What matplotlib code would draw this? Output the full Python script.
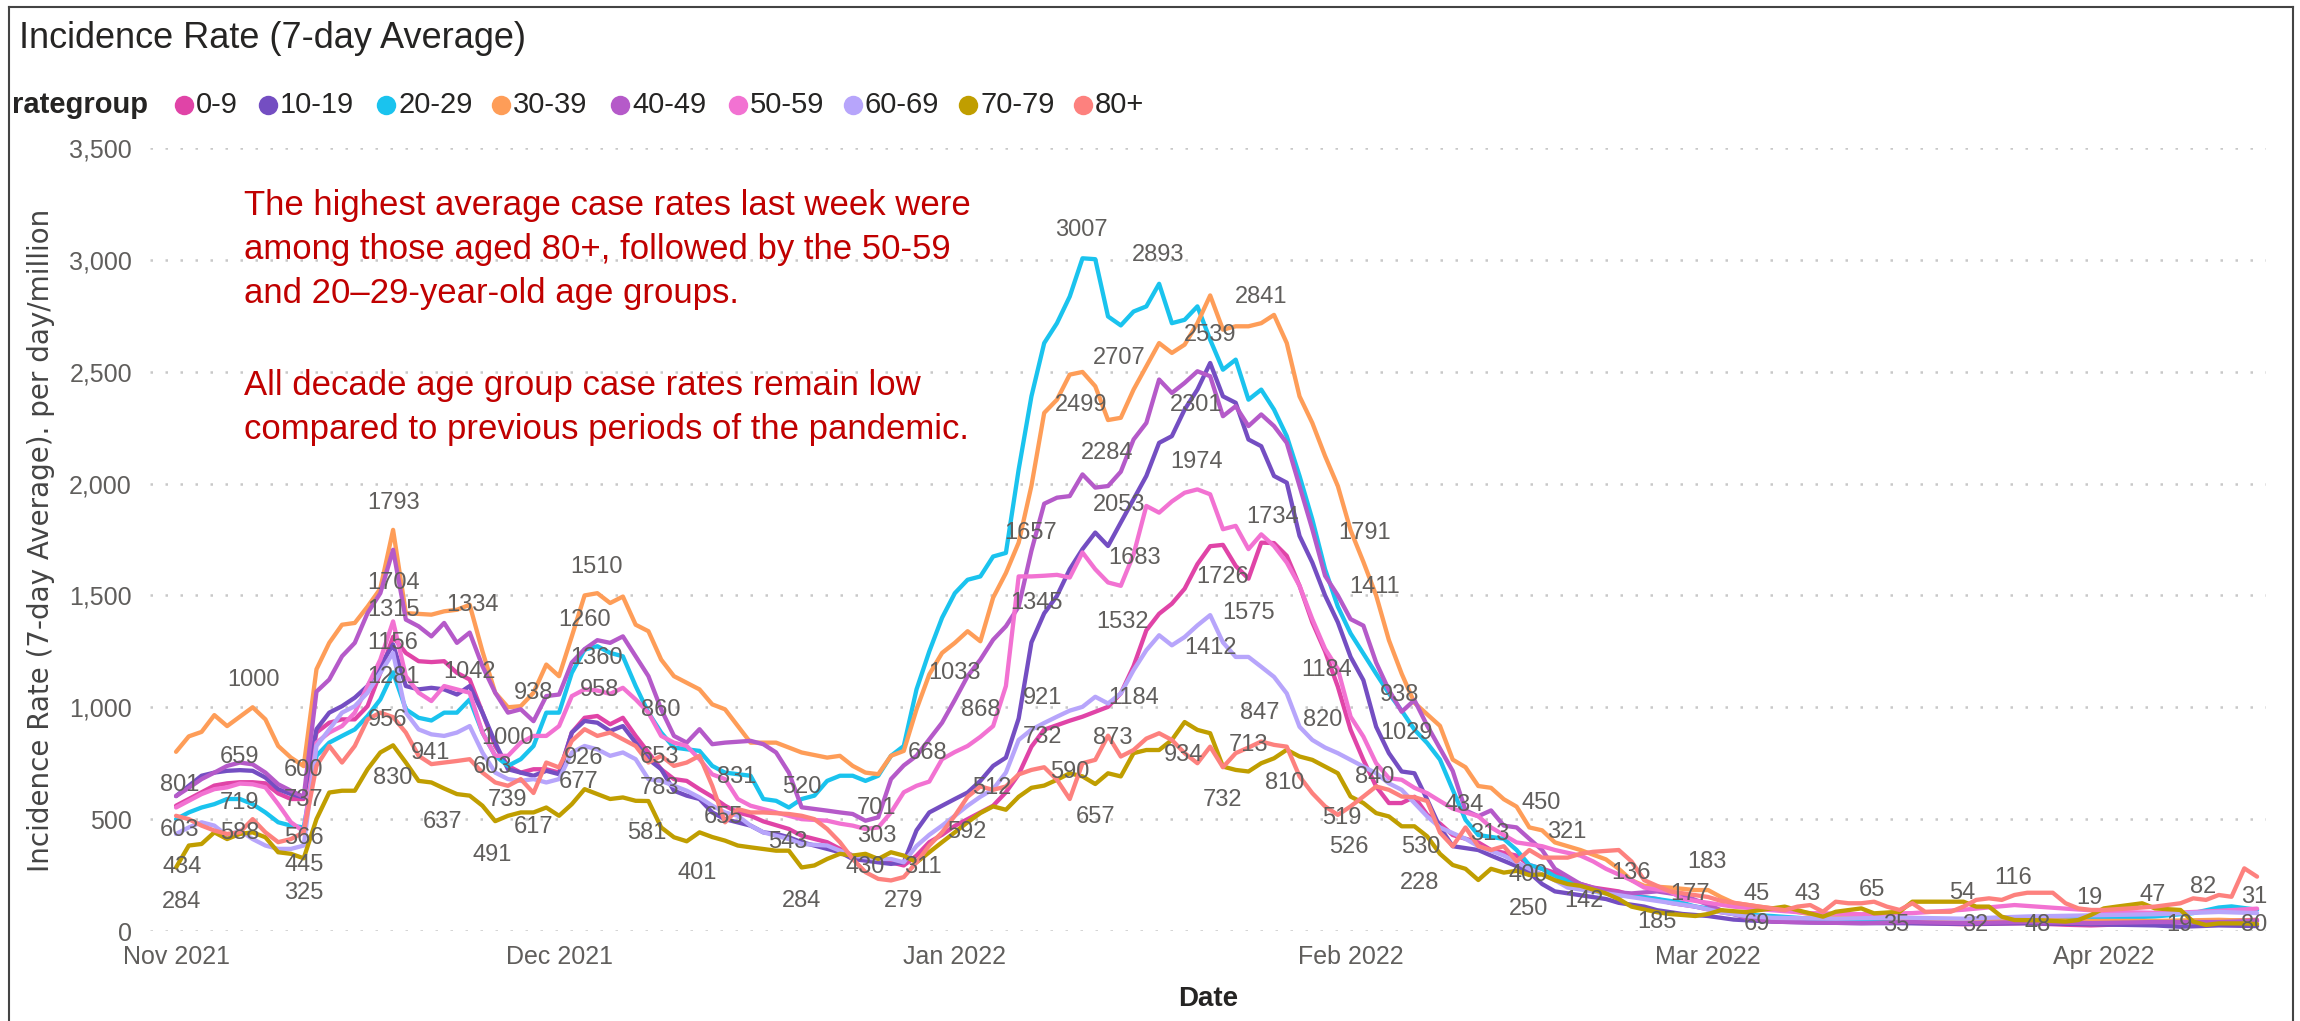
import numpy as np
import matplotlib.pyplot as plt
import matplotlib.dates as mdates
from matplotlib.lines import Line2D

# ---- data: (days since 1 Nov 2021, 7-day average rate) ----
start = np.datetime64('2021-11-01')

r_0_9 = [(0,560),(1,590),(2,620),(3,650),(4,660),(5,665),(6,665),(7,660),(8,615),(9,590),(10,590),
         (11,887),(12,931),(13,946),(14,946),(15,1005),(16,1154),(17,1315),(18,1243),(19,1206),(20,1202),
         (21,1206),(22,1154),(23,1124),(24,976),(25,827),(26,738),(27,708),(28,723),(29,723),(30,708),
         (31,887),(32,953),(33,961),(34,924),(35,953),(36,872),(37,798),(38,723),(39,679),(40,671),
         (41,634),(42,600),(43,560),(44,530),(45,515),(46,490),(48,456),(49,426),(51,397),(52,367),
         (53,337),(55,315),(56,307),(57,293),(58,337),(59,397),(60,430),(61,470),(62,500),(63,530),
         (64,560),(65,620),(66,700),(67,824),(68,900),(69,920),(70,940),(71,958),(72,980),(73,1002),
         (74,1062),(75,1184),(76,1344),(77,1418),(78,1463),(79,1530),(80,1640),(81,1720),(82,1726),
         (83,1632),(84,1575),(85,1736),(86,1734),(87,1677),(88,1543),(89,1380),(90,1250),(91,1092),
         (92,899),(93,765),(94,646),(95,572),(96,572),(97,600),(98,520),(99,480),(100,429),(102,396),
         (103,362),(105,337),(106,295),(108,261),(109,227),(111,194),(113,177),(114,160),(116,143),
         (117,126),(119,109),(121,84),(123,67),(127,42),(130,40),(135,38),(140,30),(145,35),(148,28),
         (150,25),(155,35),(160,45),(163,50)]

r_10_19 = [(0,603),(1,649),(2,694),(3,708),(4,716),(5,719),(6,716),(7,686),(8,634),(9,612),(10,597),
           (11,902),(12,976),(13,1005),(14,1043),(15,1095),(16,1184),(17,1281),(18,1095),(19,1080),
           (20,1087),(21,1080),(22,1057),(23,1095),(24,976),(25,842),(26,723),(27,708),(28,694),(29,716),
           (30,701),(31,887),(32,939),(33,931),(34,894),(35,916),(36,842),(37,768),(38,723),(39,627),
           (40,605),(41,590),(42,530),(43,500),(45,471),(46,441),(47,434),(48,419),(49,397),(51,367),
           (52,352),(53,322),(55,307),(56,300),(57,307),(58,450),(59,530),(60,560),(61,590),(62,619),
           (63,671),(64,738),(65,775),(66,950),(67,1290),(68,1420),(69,1498),(70,1617),(71,1707),
           (72,1781),(73,1721),(74,1826),(75,1930),(76,2034),(77,2182),(78,2212),(79,2331),(80,2420),
           (81,2539),(82,2390),(83,2361),(84,2197),(85,2167),(86,2034),(87,2004),(88,1766),(89,1647),
           (90,1500),(91,1380),(92,1225),(93,1121),(94,913),(95,795),(96,713),(97,705),(98,587),
           (99,463),(100,379),(102,362),(103,337),(105,290),(106,261),(107,210),(108,177),(110,160),
           (112,143),(113,126),(115,109),(116,93),(118,76),(120,67),(122,51),(125,42),(128,38),
           (132,35),(135,35),(140,32),(145,35),(150,30),(155,25),(157,19),(160,25),(163,22)]

r_20_29 = [(0,500),(1,530),(2,552),(3,567),(4,590),(5,590),(6,567),(7,530),(8,486),(9,471),(10,463),
           (11,783),(12,842),(13,872),(14,901),(15,961),(16,1035),(17,1156),(18,991),(19,953),(20,941),
           (21,976),(22,976),(23,1035),(24,887),(25,783),(26,738),(27,768),(28,827),(29,976),(30,976),
           (31,1154),(32,1258),(33,1273),(34,1243),(35,1228),(36,1095),(37,976),(38,887),(39,820),
           (41,805),(42,738),(43,708),(45,694),(46,590),(47,582),(48,552),(49,590),(50,605),(51,671),
           (52,694),(53,694),(54,671),(55,694),(56,783),(57,827),(58,1080),(59,1250),(60,1400),
           (61,1510),(62,1570),(63,1585),(64,1674),(65,1690),(66,2063),(67,2390),(68,2628),(69,2717),
           (70,2836),(71,3007),(72,3003),(73,2747),(74,2707),(75,2769),(76,2792),(77,2893),(78,2717),
           (79,2732),(80,2792),(81,2643),(82,2509),(83,2554),(84,2375),(85,2420),(86,2331),(87,2212),
           (88,2034),(89,1840),(90,1617),(91,1450),(92,1330),(93,1240),(94,1150),(95,1062),(96,985),
           (97,900),(98,840),(99,766),(100,631),(101,497),(102,429),(104,412),(105,362),(106,295),
           (107,278),(108,244),(110,210),(111,177),(113,160),(115,150),(116,143),(118,126),(119,109),
           (121,93),(122,76),(125,67),(128,55),(132,50),(136,45),(140,50),(145,50),(150,55),(155,65),
           (158,80),(160,105),(161,110),(163,95)]

r_30_39 = [(0,801),(1,870),(2,890),(3,965),(4,916),(6,1000),(7,946),(8,827),(9,775),(10,737),
           (11,1170),(12,1288),(13,1369),(14,1377),(15,1450),(16,1530),(17,1793),(18,1421),(20,1414),
           (21,1429),(22,1436),(23,1458),(24,1250),(25,1065),(26,1000),(27,1005),(28,1065),(29,1191),
           (30,1139),(31,1317),(32,1500),(33,1510),(34,1466),(35,1495),(36,1369),(37,1340),(38,1213),
           (39,1139),(41,1080),(42,1013),(43,991),(45,842),(47,842),(48,820),(49,798),(51,775),
           (52,783),(53,738),(54,708),(55,701),(56,783),(57,805),(58,991),(59,1147),(60,1243),
           (61,1288),(62,1340),(63,1295),(64,1490),(65,1600),(66,1736),(67,1990),(68,2316),(69,2375),
           (70,2487),(71,2499),(72,2435),(73,2284),(74,2294),(75,2420),(76,2524),(77,2628),(78,2584),
           (79,2621),(80,2717),(81,2841),(82,2688),(83,2703),(84,2703),(85,2717),(86,2754),(87,2628),
           (88,2390),(89,2271),(90,2123),(91,1989),(92,1791),(93,1650),(94,1500),(95,1300),(96,1150),
           (97,1020),(99,917),(100,766),(101,732),(102,648),(103,640),(104,589),(105,556),(106,463),
           (107,450),(108,396),(110,362),(112,320),(113,278),(114,227),(115,202),(117,194),(119,183),
           (120,183),(121,152),(122,126),(124,109),(126,95),(128,75),(132,60),(136,55),(140,50),
           (145,50),(150,45),(155,45),(160,50),(163,45)]

r_40_49 = [(0,603),(1,640),(2,679),(3,708),(4,738),(5,753),(6,745),(7,708),(8,656),(9,627),(10,600),
           (11,1070),(12,1124),(13,1228),(14,1288),(15,1421),(16,1510),(17,1704),(18,1392),(19,1362),
           (20,1317),(21,1377),(22,1288),(23,1334),(24,1184),(25,1065),(26,976),(27,991),(28,938),
           (29,1050),(30,1057),(31,1200),(32,1260),(33,1300),(34,1288),(35,1317),(36,1228),(37,1139),
           (38,991),(39,872),(40,842),(41,902),(42,835),(43,842),(45,850),(46,835),(47,798),(48,708),
           (49,553),(51,538),(52,530),(53,523),(54,493),(55,508),(56,679),(57,740),(58,783),(60,931),
           (61,1033),(62,1139),(63,1213),(64,1302),(65,1362),(66,1450),(67,1700),(68,1910),(69,1937),
           (70,1944),(71,2041),(72,1982),(73,1989),(74,2053),(75,2197),(76,2271),(77,2465),(78,2405),
           (79,2450),(80,2502),(81,2480),(82,2301),(83,2346),(84,2257),(85,2309),(86,2257),(87,2182),
           (88,1989),(89,1796),(90,1588),(91,1500),(92,1394),(93,1365),(94,1200),(95,1077),(96,980),
           (97,1032),(98,918),(99,816),(100,715),(101,539),(102,513),(103,539),(104,471),(105,463),
           (106,412),(107,362),(108,278),(109,244),(110,210),(112,177),(114,168),(116,177),(118,160),
           (120,118),(121,93),(123,59),(125,42),(128,38),(132,35),(136,40),(140,35),(145,40),
           (150,35),(155,40),(160,40),(163,45)]

r_50_59 = [(0,552),(1,582),(2,612),(3,634),(4,642),(5,659),(6,656),(7,642),(8,567),(9,486),(10,445),
           (11,842),(12,887),(13,916),(14,976),(15,1095),(16,1213),(17,1384),(18,1139),(19,1065),
           (20,1028),(21,1095),(22,1080),(23,1065),(24,887),(25,783),(26,783),(27,842),(28,872),
           (29,872),(30,916),(31,1050),(32,1080),(33,1075),(34,1060),(35,1087),(36,1035),(37,976),
           (38,872),(39,842),(40,827),(41,768),(42,700),(43,679),(44,590),(45,560),(46,545),(47,530),
           (48,515),(49,500),(51,493),(52,480),(53,471),(54,456),(55,463),(56,530),(57,620),(58,649),
           (59,668),(60,768),(61,800),(62,827),(63,868),(64,916),(65,1095),(66,1585),(67,1585),
           (68,1588),(69,1592),(70,1580),(71,1692),(72,1617),(73,1558),(74,1543),(75,1683),(76,1900),
           (77,1870),(78,1920),(79,1959),(80,1974),(81,1952),(82,1796),(83,1811),(84,1707),(85,1773),
           (86,1721),(87,1647),(88,1543),(89,1394),(90,1261),(91,1171),(92,958),(93,869),(94,750),
           (95,683),(96,676),(97,640),(98,616),(99,581),(100,547),(102,513),(103,463),(104,429),
           (105,396),(107,379),(108,362),(110,337),(111,311),(112,278),(114,227),(115,194),(117,177),
           (118,143),(120,126),(122,109),(125,93),(128,80),(132,75),(136,80),(140,95),(144,116),
           (148,100),(152,85),(156,80),(160,90),(163,100)]

r_60_69 = [(0,434),(1,463),(2,486),(3,471),(4,426),(5,449),(6,411),(7,382),(8,367),(9,367),(10,382),
           (11,827),(12,901),(13,976),(14,1005),(15,1065),(16,1154),(17,1243),(18,976),(19,901),
           (20,879),(21,872),(22,887),(23,916),(24,798),(25,708),(26,679),(27,671),(28,679),(29,664),
           (30,679),(31,798),(32,827),(33,812),(34,783),(35,798),(36,768),(37,679),(38,671),(39,649),
           (40,627),(41,597),(42,560),(43,530),(44,515),(45,471),(46,441),(48,411),(49,389),(51,382),
           (52,359),(53,337),(55,322),(56,322),(57,307),(58,380),(59,430),(60,471),(61,515),(62,560),
           (63,600),(64,634),(65,708),(66,854),(67,900),(68,930),(69,958),(70,985),(71,1002),
           (72,1047),(73,1017),(74,1062),(75,1166),(76,1255),(77,1322),(78,1277),(79,1314),(80,1366),
           (81,1412),(82,1290),(83,1225),(84,1225),(85,1181),(86,1136),(87,1062),(88,913),(89,854),
           (90,820),(91,795),(92,765),(93,735),(94,705),(95,660),(96,631),(97,572),(98,512),(99,463),
           (101,412),(102,379),(104,337),(106,278),(108,227),(109,194),(111,177),(113,160),(115,143),
           (117,126),(119,109),(121,84),(123,67),(125,59),(130,55),(135,60),(140,55),(145,65),
           (150,70),(155,75),(160,85),(163,80)]

r_70_79 = [(0,284),(1,382),(2,389),(3,441),(4,411),(5,434),(6,441),(7,419),(8,352),(9,345),(10,325),
           (11,500),(12,619),(13,627),(14,627),(15,723),(16,798),(17,830),(18,753),(19,671),(20,664),
           (21,637),(22,612),(23,605),(24,560),(25,491),(26,515),(27,530),(28,530),(29,552),(30,515),
           (31,567),(32,634),(33,612),(34,590),(35,597),(36,582),(37,581),(38,463),(39,419),(40,401),
           (41,441),(42,420),(43,404),(44,382),(45,374),(47,359),(48,359),(49,284),(50,293),(51,322),
           (52,345),(53,337),(54,345),(55,322),(56,352),(57,337),(58,307),(59,352),(60,397),(61,441),
           (62,486),(63,527),(64,557),(65,542),(66,600),(67,640),(68,650),(69,676),(70,705),(71,691),
           (72,657),(73,705),(74,691),(75,795),(76,809),(77,809),(78,854),(79,934),(80,899),(81,884),
           (82,735),(83,720),(84,713),(85,750),(86,772),(87,810),(88,780),(89,765),(90,735),(91,705),
           (92,601),(93,572),(94,527),(95,512),(96,468),(97,468),(98,423),(99,345),(100,295),
           (101,278),(102,228),(103,278),(104,261),(105,269),(106,250),(107,253),(108,227),(109,210),
           (110,202),(112,168),(113,143),(114,109),(116,84),(117,76),(119,67),(120,76),(121,93),
           (123,84),(124,93),(126,109),(127,93),(129,64),(130,86),(132,101),(133,79),(135,86),
           (136,131),(139,131),(140,131),(141,109),(142,109),(143,64),(144,49),(146,48),(148,42),
           (149,49),(150,72),(151,101),(152,109),(154,124),(155,101),(157,94),(158,42),(159,27),
           (160,34),(162,34),(163,31)]

r_80p = [(0,515),(1,500),(2,471),(3,449),(4,434),(5,441),(6,500),(7,441),(8,397),(9,411),(10,441),
         (11,738),(12,827),(13,753),(14,827),(15,946),(16,976),(17,956),(18,887),(19,783),(20,746),
         (21,753),(22,760),(23,768),(24,708),(25,664),(26,649),(27,679),(28,617),(29,753),(30,731),
         (31,850),(32,902),(33,872),(34,887),(35,857),(36,827),(37,753),(38,783),(39,738),(40,753),
         (41,783),(42,649),(43,486),(44,545),(45,530),(46,530),(48,523),(49,515),(50,500),(51,456),
         (52,397),(53,322),(54,263),(55,233),(56,226),(57,241),(58,307),(59,382),(60,441),(61,515),
         (62,600),(63,646),(64,631),(65,646),(66,700),(67,720),(68,732),(69,676),(70,590),(71,750),
         (72,765),(73,873),(74,780),(75,809),(76,860),(77,884),(78,854),(79,795),(80,750),(81,824),
         (82,732),(83,795),(84,820),(85,847),(86,832),(87,824),(88,691),(89,616),(90,557),(91,519),
         (92,557),(93,601),(94,646),(95,631),(96,601),(97,598),(98,581),(99,440),(100,379),(101,463),
         (102,379),(103,362),(104,379),(105,311),(106,362),(107,328),(109,328),(110,345),(111,354),
         (113,362),(114,311),(115,227),(116,202),(117,177),(119,160),(120,152),(121,135),(122,126),
         (124,109),(126,93),(127,109),(128,116),(129,86),(130,131),(131,124),(132,124),(133,131),
         (134,109),(135,94),(136,124),(137,86),(139,86),(140,109),(141,139),(142,146),(143,139),
         (144,161),(145,171),(147,171),(148,124),(149,101),(150,94),(151,94),(153,101),(155,109),
         (157,124),(158,146),(159,139),(160,161),(161,153),(162,280),(163,243)]

groups = ['0-9', '10-19', '20-29', '30-39', '40-49', '50-59', '60-69', '70-79', '80+']
series = [r_0_9, r_10_19, r_20_29, r_30_39, r_40_49, r_50_59, r_60_69, r_70_79, r_80p]
colors = ['#E044A7', '#744EC2', '#1AC3EE', '#FE9D58', '#B55AC9', '#F272D2', '#B7A5FB', '#C09E00', '#FD817E']

# data labels shown on the chart (text, day, label centre height)
lab_text = ['1793','1704','1315','1156','1281','956','830','1000','659','801','719','603','588','434',
            '284','600','737','566','445','325','1334','1042','941','637','1000','603','739','491',
            '617','938','1510','1260','1360','958','926','677',
            '860','653','783','581','831','655','401','520','543','284','701','303','430','279',
            '311','668','1033','868','592','512','1657','1345','921','732',
            '3007','2893','2841','2539','2707','2499','2301','2284','1974','2053','1734','1791',
            '1683','1726','1411',
            '1575','1532','1412','1184','1184','938','847','820','1029','873','713','934','590',
            '840','810','732','657','519','526','530','228',
            '434','313','450','321','400','250','142','136','177','183','185','45','69','43','65',
            '35','54','116','32','48','19','47','82','19','31','80']
lab_day = [17.0,17.0,17.0,17.0,17.0,16.6,17.0,6.1,5.0,0.3,5.0,0.3,5.0,0.45,0.45,10.0,10.0,10.0,
           10.0,10.0,23.2,23.0,19.9,20.9,26.0,24.8,26.0,24.8,28.0,28.0,32.9,32.0,32.9,33.2,31.9,31.5,
           38.0,37.9,37.9,36.9,43.9,42.9,40.8,49.0,47.9,49.0,54.9,54.9,54.0,57.0,58.5,58.9,61.0,
           63.0,61.9,63.9,66.9,67.4,67.9,67.9,
           70.9,76.9,85.0,81.0,73.9,70.9,79.9,72.9,79.9,73.9,85.9,93.1,75.1,82.0,93.9,
           84.0,74.1,81.0,90.1,75.0,95.8,84.9,89.8,96.4,73.4,84.0,78.9,70.0,93.9,86.8,82.0,72.0,
           91.3,91.9,97.5,97.4,
           100.9,102.9,106.9,108.9,105.9,105.9,110.3,114.0,118.6,119.9,116.0,123.8,123.8,127.8,132.8,
           134.7,139.9,143.9,140.9,145.8,149.9,154.8,158.8,156.9,162.8,162.8]
lab_y = [1912,1557,1435,1286,1137,943,683,1122,779,653,571,451,437,287,131,720,586,414,295,169,
         1457,1159,794,489,861,734,586,340,466,1063,1629,1390,1219,1077,772,667,
         988,779,638,437,690,511,258,645,399,135,548,425,287,135,287,794,1152,988,444,638,1778,
         1465,1040,868,
         3134,3022,2836,2664,2560,2351,2351,2135,2098,1904,1852,1778,1666,1584,1539,
         1420,1383,1264,1167,1040,1055,973,943,884,861,831,787,712,690,660,586,511,504,377,377,214,
         561,435,570,444,250,99,132,259,166,309,40,166,31,166,183,
         27,168,235,27,27,146,161,198,27,153,27]

note_lines = ['The highest average case rates last week were',
              'among those aged 80+, followed by the 50-59',
              'and 20\u201329-year-old age groups.',
              'All decade age group case rates remain low',
              'compared to previous periods of the pandemic.']

# ---- figure ----
W, H = 2300, 1021
fig = plt.figure(figsize=(W / 100, H / 100), dpi=100)
fig.patch.set_facecolor('white')
ax = fig.add_axes([150 / W, 1 - 931 / H, (2266 - 150) / W, (931 - 148) / H])

t0 = mdates.date2num(start)
for pts, c in zip(series, colors):
    d, v = zip(*pts)
    ax.plot(t0 + np.array(d, dtype=float), v, color=c, lw=3.1,
            solid_joinstyle='round', solid_capstyle='round', zorder=2)

for txt, dd, yy in zip(lab_text, lab_day, lab_y):
    ax.text(t0 + dd, yy, txt, ha='center', va='center', fontsize=17, color='#605E5C',
            family='Liberation Sans', zorder=5, clip_on=False)

ax.set_xlim(t0 - 2.04, t0 + 163.7)
ax.set_ylim(0, 3500)
ax.set_yticks(np.arange(0, 3501, 500))
ax.set_yticklabels([f'{v:,}' for v in range(0, 3501, 500)])
ax.xaxis.set_major_locator(mdates.MonthLocator())
ax.xaxis.set_major_formatter(mdates.DateFormatter('%b %Y'))
ax.tick_params(length=0, labelsize=18, labelcolor='#605E5C')
ax.tick_params(axis='y', pad=13)
ax.tick_params(axis='x', pad=10)
for lbl in ax.get_xticklabels() + ax.get_yticklabels():
    lbl.set_family('Liberation Sans')
for s in ax.spines.values():
    s.set_visible(False)
ax.grid(axis='y', color='#C8C8C8', linestyle=(0, (1, 5)), lw=1.8)
ax.grid(axis='x', visible=False)
ax.set_axisbelow(True)

ax.set_xlabel('Date', fontsize=20, fontweight='bold', color='#252423',
              family='Liberation Sans', labelpad=12)
fig.text(41 / W, 1 - 540 / H, 'Incidence Rate (7-day Average). per day/million', rotation=90,
         ha='center', va='center', fontsize=20, color='#444444', family='DejaVu Sans')

# title and legend
fig.text(19 / W, 1 - 38 / H, 'Incidence Rate (7-day Average)', ha='left', va='center',
         fontsize=26, color='#252423', family='Liberation Sans')
fig.text(12 / W, 1 - 105 / H, 'rategroup', ha='left', va='center', fontsize=21,
         fontweight='bold', color='#252423', family='Liberation Sans')
leg_x = [184, 268, 386, 501, 620, 738, 853, 968, 1083]
for gx, g, c in zip(leg_x, groups, colors):
    fig.add_artist(Line2D([gx / W], [1 - 105 / H], marker='o', markersize=14, color=c,
                          markeredgewidth=0, transform=fig.transFigure))
    fig.text((gx + 12) / W, 1 - 105 / H, g, ha='left', va='center', fontsize=21,
             color='#252423', family='Liberation Sans')

# red commentary
for txt, yb in zip(note_lines, [215, 259, 303, 395, 439]):
    fig.text(244 / W, 1 - yb / H, txt, ha='left', va='baseline', fontsize=25,
             color='#C00000', family='Liberation Sans')

# visual border
fig.add_artist(Line2D([9 / W, 2293 / W], [1 - 7 / H, 1 - 7 / H], color='#444444', lw=1.5,
                      transform=fig.transFigure))
fig.add_artist(Line2D([9 / W, 9 / W], [0, 1 - 7 / H], color='#444444', lw=1.5,
                      transform=fig.transFigure))
fig.add_artist(Line2D([2293 / W, 2293 / W], [0, 1 - 7 / H], color='#444444', lw=1.5,
                      transform=fig.transFigure))

fig.savefig('out.png', dpi=100)
